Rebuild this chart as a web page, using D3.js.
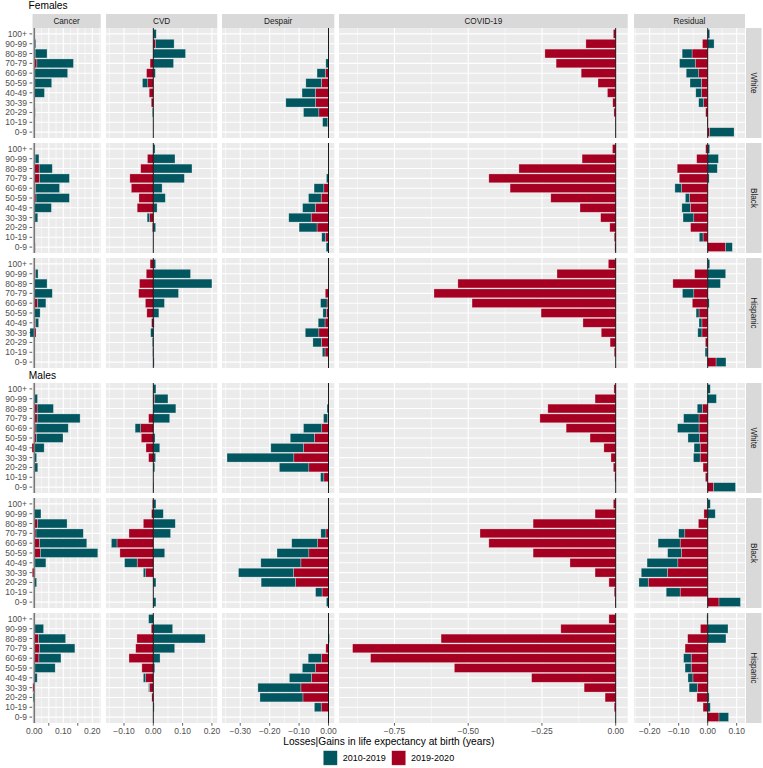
<!DOCTYPE html>
<html><head><meta charset="utf-8">
<script src="https://cdn.jsdelivr.net/npm/d3@7"></script>
<style>body{margin:0;background:#fff} text{font-family:"Liberation Sans",Arial,sans-serif}</style>
</head><body><svg id="c" width="763" height="768"></svg>
<script>
// ---------------- DATA ----------------
const ages = ["100+","90-99","80-89","70-79","60-69","50-59","40-49","30-39","20-29","10-19","0-9"];
const causes = ["Cancer","CVD","Despair","COVID-19","Residual"];
const races = ["White","Black","Hispanic"];
const sexes = ["Females","Males"];
const periods = ["2010-2019","2019-2020"];

// each: [Cancer, CVD, Despair, COVID-19, Residual], values by age (100+ ... 0-9)
const fWhite_1019 = [
  [0,0.004,0.041,0.126,0.113,0.058,0.035,0,0.003,0,0.001],
  [0.010,0.064,0.110,0.069,0.007,-0.018,0,0,-0.003,0,0],
  [0,0,0,-0.009,-0.028,-0.053,-0.045,-0.101,-0.052,-0.017,0],
  [0,0,0,0,0,0,0,0,0,0,0],
  [0.007,0.022,-0.034,-0.054,-0.043,-0.039,-0.020,-0.017,0,0,0.084]];
const fWhite_1920 = [
  [0,0.001,0.003,0.009,0.002,0.002,0,0,0,0,0.001],
  [0,0.007,0,-0.011,-0.023,-0.019,-0.014,-0.007,0,0,0],
  [0,0,0,0,-0.011,-0.024,-0.045,-0.044,-0.033,-0.003,0],
  [-0.008,-0.101,-0.240,-0.202,-0.117,-0.060,-0.028,-0.010,-0.006,-0.001,-0.001],
  [0,-0.018,-0.054,-0.043,-0.031,-0.022,-0.021,-0.014,-0.007,-0.002,0.007]];
const fBlack_1019 = [
  [0,0.013,0.045,0.103,0.082,0.115,0.059,0.010,0.002,0.002,0],
  [0.006,0.074,0.132,0.106,0.030,0.041,0.013,-0.008,0.008,0,0],
  [0,0,0,-0.007,-0.033,-0.043,-0.043,-0.076,-0.061,-0.012,-0.008],
  [0,0,0,0,0,0,0,0,0,0,0],
  [0.007,0.037,0.033,0.005,-0.023,-0.014,-0.029,-0.037,0,-0.013,0.023]];
const fBlack_1920 = [
  [0,0.003,0.017,0.018,0.005,0.006,0,0.002,0,0,0.003],
  [0,-0.020,-0.043,-0.080,-0.075,-0.049,-0.055,-0.013,-0.003,0,0],
  [0,0,0,0,-0.016,-0.025,-0.045,-0.059,-0.039,-0.011,0],
  [-0.011,-0.114,-0.328,-0.430,-0.358,-0.220,-0.121,-0.051,-0.020,-0.005,-0.003],
  [-0.007,-0.038,-0.105,-0.098,-0.090,-0.063,-0.060,-0.048,-0.059,-0.016,0.062]];
const fHisp_1019 = [
  [0,0.008,0.044,0.062,0.029,0.020,0.010,-0.015,0.002,0,0],
  [0.008,0.127,0.200,0.086,0.038,0.019,0.003,-0.009,-0.003,-0.002,0.003],
  [0,0,0,0,-0.022,-0.012,-0.023,-0.046,-0.029,-0.009,0],
  [0,0,0,0,0,0,0,0,0,0,0],
  [0.007,0.062,0.044,-0.039,0.005,-0.010,-0.010,-0.014,0,-0.007,0.034]];
const fHisp_1920 = [
  [0.002,0.005,0,0,0.011,0,0.005,0.006,0,0,0],
  [-0.011,-0.024,-0.047,-0.050,-0.027,-0.022,-0.006,0,0,0,0],
  [0,0,0,-0.011,-0.005,-0.007,-0.012,-0.033,-0.024,-0.012,0],
  [-0.025,-0.199,-0.535,-0.616,-0.487,-0.253,-0.111,-0.049,-0.019,-0.005,0],
  [0,-0.045,-0.120,-0.048,-0.053,-0.030,-0.020,-0.020,-0.008,-0.002,0.029]];
const mWhite_1019 = [
  [0,0.011,0.056,0.148,0.111,0.092,0.034,0.008,0.011,0,0.002],
  [0.009,0.045,0.077,0.056,-0.019,0.006,0.022,0.008,0.005,0,0],
  [0,0,-0.005,-0.014,-0.062,-0.082,-0.111,-0.227,-0.100,-0.011,0],
  [0,0,0,0,0,0,0,0,0,0,0],
  [0.009,0.030,-0.018,-0.053,-0.074,-0.040,-0.021,-0.023,0,0,0.076]];
const mWhite_1920 = [
  [0,0,0.010,0.010,0.006,0.007,-0.008,0,0.001,0,0],
  [0,0.005,0,-0.016,-0.043,-0.041,-0.025,-0.016,0,0,0.002],
  [0,0,0,-0.003,-0.023,-0.048,-0.085,-0.118,-0.067,-0.016,0],
  [-0.006,-0.070,-0.230,-0.257,-0.168,-0.087,-0.040,-0.016,-0.008,-0.003,0],
  [0,0,-0.018,-0.030,-0.030,-0.028,-0.026,-0.026,-0.016,-0.008,0.020]];
const mBlack_1019 = [
  [0,0.023,0.102,0.163,0.163,0.198,0.038,0.003,0.008,0,0],
  [0.009,0.034,0.075,0.059,-0.019,0.039,-0.043,-0.008,0.009,0,0.009],
  [0,0,0,-0.017,-0.088,-0.108,-0.136,-0.187,-0.117,-0.022,-0.007],
  [0,0,0,0,0,0,0,0,0,0,0],
  [0.009,0.026,0,-0.021,-0.076,-0.047,-0.106,-0.090,-0.032,-0.048,0.074]];
const mBlack_1920 = [
  [0,0,0.011,0.006,0.018,0.021,0.002,-0.007,0,0,0],
  [-0.003,-0.006,-0.034,-0.083,-0.124,-0.114,-0.055,-0.026,0,0,0],
  [0,0,0,-0.009,-0.037,-0.067,-0.094,-0.119,-0.112,-0.022,0],
  [-0.008,-0.070,-0.280,-0.460,-0.430,-0.280,-0.155,-0.070,-0.023,-0.005,-0.002],
  [0,-0.013,-0.032,-0.079,-0.095,-0.091,-0.103,-0.139,-0.205,-0.095,0.039]];
const mHisp_1019 = [
  [0,0.030,0.093,0.122,0.076,0.070,0.010,0,-0.004,0,0.002],
  [-0.016,0.066,0.177,0.073,0.023,0.005,-0.008,-0.003,0,0.003,0],
  [0,0,0.003,0,-0.045,-0.044,-0.075,-0.146,-0.146,-0.023,0],
  [0,0,0,0,0,0,0,0,0,0,0],
  [-0.003,0.070,0.063,0,-0.026,-0.021,-0.017,-0.028,0.005,0.009,0.033]];
const mHisp_1920 = [
  [0,0.002,0.015,0.018,0.016,0.002,0,-0.005,0,0.002,0],
  [0,-0.007,-0.056,-0.060,-0.083,-0.039,-0.026,-0.013,-0.005,0,0],
  [0,0,0,-0.009,-0.024,-0.045,-0.058,-0.094,-0.087,-0.025,0],
  [-0.023,-0.186,-0.592,-0.892,-0.831,-0.547,-0.285,-0.107,-0.036,-0.005,0],
  [0,-0.025,-0.069,-0.078,-0.057,-0.057,-0.051,-0.036,-0.037,-0.016,0.039]];

// tick labels per column
const cancerTicks = [0, 0.10, 0.20];
const cvdTicks = [-0.10, 0, 0.10, 0.20];
const despairTicks = [-0.30, -0.20, -0.10, 0];
const covidTicks = [-0.75, -0.50, -0.25, 0];
const residualTicks = [-0.20, -0.10, 0, 0.10];

// ---------------- LAYOUT ----------------
const svg = d3.select("#c");
const teal = "#01565f", red = "#a50021";
const colors = {"2010-2019": teal, "2019-2020": red};
const colRange = [[32.5,100.7],[106,217.3],[222,334.3],[339,627.7],[634,745]];
const colDomain = [[-0.0062,0.229],[-0.1614,0.2184],[-0.362,0.0197],[-0.938,0.0407],[-0.254,0.1286]];
const tickSets = [cancerTicks, cvdTicks, despairTicks, covidTicks, residualTicks];
const gridMajor = [[0,0.05,0.10,0.15,0.20], cvdTicks, despairTicks, covidTicks, residualTicks];
const tickMarks = [[0.05,0.15], cvdTicks, despairTicks, covidTicks, residualTicks];
const rowTops = {Females:[28,143,258], Males:[383,498,613]};
const panelH = 110;

const xScales = colRange.map((r,i)=>d3.scaleLinear().domain(colDomain[i]).range(r));

function minorOf(maj, dom){
  const step = maj[1]-maj[0];
  const out = [];
  for(let v = maj[0]-step/2; v <= dom[1]; v += step){ if(v >= dom[0]) out.push(v); }
  return out;
}

const data = {
  Females: {White:[fWhite_1019,fWhite_1920], Black:[fBlack_1019,fBlack_1920], Hispanic:[fHisp_1019,fHisp_1920]},
  Males: {White:[mWhite_1019,mWhite_1920], Black:[mBlack_1019,mBlack_1920], Hispanic:[mHisp_1019,mHisp_1920]}
};

// titles
svg.append("text").attr("x",28.5).attr("y",9.3).attr("font-size",10.2).attr("fill","#000").text("Females");
svg.append("text").attr("x",28.8).attr("y",379.4).attr("font-size",10.2).attr("fill","#000").text("Males");

// top strips (Females only)
causes.forEach((c,ci)=>{
  const [x0,x1] = colRange[ci];
  svg.append("rect").attr("x",x0).attr("y",14).attr("width",x1-x0).attr("height",14).attr("fill","#d9d9d9");
  svg.append("text").attr("x",(x0+x1)/2).attr("y",24).attr("text-anchor","middle")
    .attr("font-size",8.2).attr("fill","#1a1a1a").text(c);
});

sexes.forEach(sex=>{
  races.forEach((race,ri)=>{
    const top = rowTops[sex][ri];
    const y = d3.scaleBand().domain(ages).range([top, top+panelH]).paddingInner(0.1).paddingOuter(0.15);
    const yc = a => y(a) + y.bandwidth()/2;
    const [teal1019, red1920] = data[sex][race];

    causes.forEach((c,ci)=>{
      const x = xScales[ci];
      const [x0,x1] = colRange[ci];
      const g = svg.append("g");
      g.append("rect").attr("x",x0).attr("y",top).attr("width",x1-x0).attr("height",panelH).attr("fill","#ebebeb");
      const dom = colDomain[ci];
      minorOf(gridMajor[ci], dom).forEach(v=>{
        g.append("line").attr("x1",x(v)).attr("x2",x(v)).attr("y1",top).attr("y2",top+panelH)
          .attr("stroke","#fff").attr("stroke-width",0.55);
      });
      gridMajor[ci].forEach(v=>{
        g.append("line").attr("x1",x(v)).attr("x2",x(v)).attr("y1",top).attr("y2",top+panelH)
          .attr("stroke","#fff").attr("stroke-width",1.1);
      });
      ages.forEach(a=>{
        g.append("line").attr("x1",x0).attr("x2",x1).attr("y1",yc(a)).attr("y2",yc(a))
          .attr("stroke","#fff").attr("stroke-width",1.1);
      });
      // stacked bars: 2019-2020 inner, 2010-2019 outer
      ages.forEach((a,ai)=>{
        const r = red1920[ci][ai], t = teal1019[ci][ai];
        const segs = [];
        segs.push({p:"2019-2020", a:0, b:r});
        if (r !== 0 && Math.sign(t) === Math.sign(r)) segs.push({p:"2010-2019", a:r, b:r+t});
        else segs.push({p:"2010-2019", a:0, b:t});
        segs.forEach(s=>{
          if (s.a === s.b) return;
          const xa = x(Math.min(s.a,s.b)), xb = x(Math.max(s.a,s.b));
          g.append("rect").attr("x",xa).attr("y",y(a)).attr("width",xb-xa).attr("height",y.bandwidth())
            .attr("fill",colors[s.p]).attr("stroke","#ffffff").attr("stroke-opacity",0.45).attr("stroke-width",0.6);
        });
      });
      // zero line
      g.append("line").attr("x1",x(0)).attr("x2",x(0)).attr("y1",top).attr("y2",top+panelH)
        .attr("stroke", ci===0 ? "#777" : "#000").attr("stroke-width", ci===0 ? 1.6 : 0.9);
    });

    // y axis
    ages.forEach(a=>{
      svg.append("line").attr("x1",29.5).attr("x2",32.2).attr("y1",yc(a)).attr("y2",yc(a))
        .attr("stroke","#333").attr("stroke-width",0.8);
      svg.append("text").attr("x",27).attr("y",yc(a)+3).attr("text-anchor","end")
        .attr("font-size",8.5).attr("fill","#4d4d4d").text(a);
    });

    // right strip
    svg.append("rect").attr("x",746).attr("y",top).attr("width",15.5).attr("height",panelH).attr("fill","#d9d9d9");
    svg.append("text").attr("transform",`translate(${750.8},${top+panelH/2}) rotate(90)`)
      .attr("text-anchor","middle").attr("font-size",8.2).attr("fill","#1a1a1a").text(race);
  });
});

// x axes at bottom
const axisY = rowTops.Males[2] + panelH;
causes.forEach((c,ci)=>{
  const x = xScales[ci];
  tickMarks[ci].forEach(v=>{
    svg.append("line").attr("x1",x(v)).attr("x2",x(v)).attr("y1",axisY).attr("y2",axisY+2.7)
      .attr("stroke","#333").attr("stroke-width",0.8);
  });
  tickSets[ci].forEach(v=>{
    svg.append("text").attr("x",x(v)).attr("y",axisY+10.8).attr("text-anchor","middle")
      .attr("font-size",8.5).attr("fill","#4d4d4d").text(d3.format(".2f")(v));
  });
});

svg.append("text").attr("x",388.8).attr("y",745.3).attr("text-anchor","middle")
  .attr("font-size",10.2).attr("fill","#000").text("Losses|Gains in life expectancy at birth (years)");

// legend
const legX = [323.3, 391.7];
periods.forEach((p,i)=>{
  svg.append("rect").attr("x",legX[i]).attr("y",750.7).attr("width",14).attr("height",14.5)
    .attr("fill",colors[p]).attr("stroke","#fff").attr("stroke-opacity",0.45).attr("stroke-width",0.6);
  svg.append("text").attr("x",legX[i]+19.4).attr("y",761.3).attr("font-size",9)
    .attr("fill","#000").text(p);
});
</script></body></html>
